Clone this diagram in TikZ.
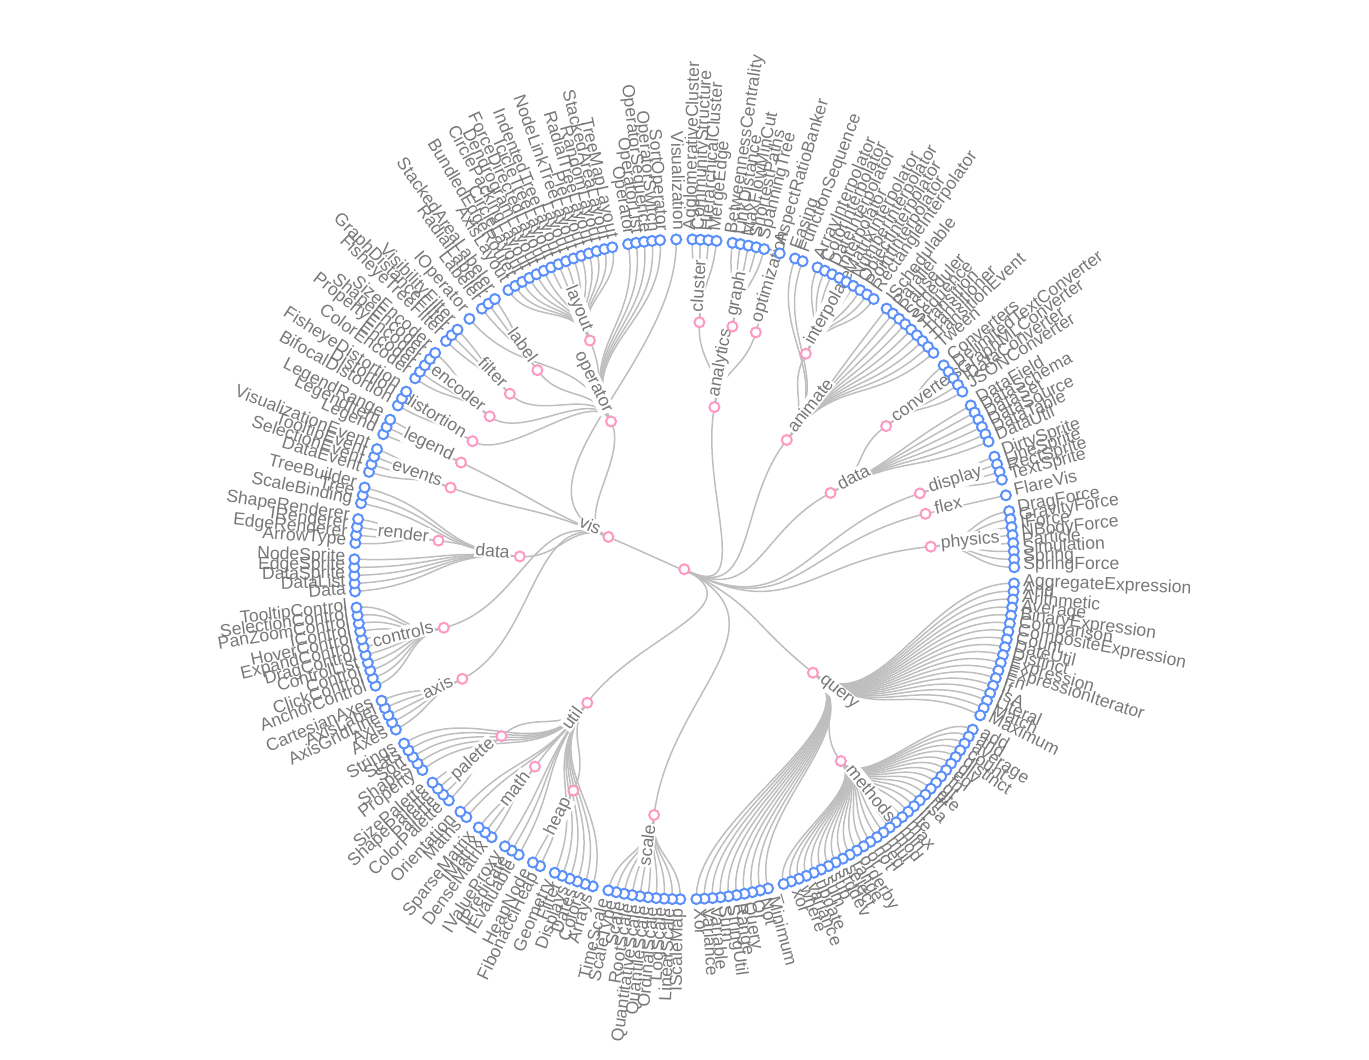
\documentclass[tikz,border=0pt]{standalone}
\usepackage{fontspec}
\setmainfont{Liberation Sans}
\usepackage{xcolor}
\usepackage{tikz}

\definecolor{leafblue}{RGB}{91,143,249}
\definecolor{innerpink}{RGB}{255,153,195}
\definecolor{linkgray}{RGB}{190,190,190}
\definecolor{textgray}{RGB}{120,120,120}

\tikzset{
    leafnode/.style={circle, draw=leafblue, fill=white, line width=2pt, minimum size=10pt, inner sep=0pt},
    branchnode/.style={leafnode, draw=innerpink},
    leafnode text/.style={text=textgray, font=\fontsize{17.6}{20}\selectfont, inner sep=0pt},
    branchnode text/.style={leafnode text, fill=white, inner sep=1.2pt},
    edgeline/.style={draw=linkgray, line width=1.5pt}
}

% 360/257 degrees per slot, radius of the outer ring
\def\slotang{1.400778}
\def\ringrad{330}
\newif\iflinkpass

\newcommand{\storeval}[3]{\expandafter\xdef\csname #1@#2\endcsname{#3}}
\newcommand{\fetchval}[2]{\csname #1@#2\endcsname}

% #1 name, #2 text, #3 slot, #4 height, #5 parent, #6 style
\newcommand{\treenode}[6]{%
    \pgfmathsetmacro\nodeang{90-#3*\slotang}%
    \pgfmathsetmacro\noderad{\ringrad*(1-#4/4)}%
    \iflinkpass
        % first pass: positions and connectors
        \storeval{ang}{#1}{\nodeang}%
        \storeval{rad}{#1}{\noderad}%
        \coordinate (#1) at (\nodeang:\noderad);
        \pgfmathsetmacro\parang{\fetchval{ang}{#5}}%
        \pgfmathsetmacro\midrad{(\fetchval{rad}{#5}+\noderad)/2}%
        \draw[edgeline] (#5) .. controls (\parang:\midrad) and (\nodeang:\midrad) .. (#1);
    \else
        % second pass: circles and labels
        \node[#6] (n-#1) at (#1) {};
        \pgfmathsetmacro\labrad{\noderad+9}%
        \pgfmathtruncatemacro\onright{#3*\slotang<180}%
        \ifnum\onright=1
            \node[#6 text, anchor=mid west, rotate=\nodeang] (t-#1) at (\nodeang:\labrad) {#2};
        \else
            \pgfmathsetmacro\flipang{\nodeang+180}%
            \node[#6 text, anchor=mid east, rotate=\flipang] (t-#1) at (\nodeang:\labrad) {#2};
        \fi
    \fi
}

% #1 parent, #2 first slot, #3 names
\newcommand{\leafrun}[3]{%
    \foreach \nm [count=\k from 0] in {#3} {%
        \pgfmathsetmacro\leafslot{#2+\k}%
        \treenode{\nm}{\nm}{\leafslot}{0}{#1}{leafnode}%
    }%
}

\newcommand{\flaretree}{%
    % Top level packages
    \foreach \nm/\slotno/\hgt in {analytics/7.5/2, animate/27.4167/2, data/44.5714/2, display/51.5/1, flex/55/1, physics/60.5/1, query/91.9483/2, scale/133.5/1, util/154.2105/2, vis/209.2323/3} {
        \treenode{\nm}{\nm}{\slotno}{\hgt}{root}{branchnode}
    }
    % Sub packages
    \foreach \nm/\slotno/\hgt/\up in {cluster/2.5/1/analytics, graph/8/1/analytics, optimization/12/1/analytics, interpolate/21/1/animate, converters/39/1/data, methods/100.5/1/query, heap/147.5/1/util, math/155/1/util, palette/162.5/1/util, axis/174/1/vis, controls/183/1/vis, events/206.5/1/vis, legend/211/1/vis, operator/238.1818/2/vis} {
        \treenode{\nm}{\nm}{\slotno}{\hgt}{\up}{branchnode}
    }
    \treenode{visdata}{data}{195.9444}{2}{vis}{branchnode}
    \foreach \nm/\slotno/\up in {render/197.5/visdata, distortion/215/operator, encoder/220/operator, filter/225/operator, label/231/operator, layout/241/operator} {
        \treenode{\nm}{\nm}{\slotno}{1}{\up}{branchnode}
    }
    % Leaves - analytics, animate
    \leafrun{cluster}{1}{AgglomerativeCluster, CommunityStructure, HierarchicalCluster, MergeEdge}
    \leafrun{graph}{6}{BetweennessCentrality, LinkDistance, MaxFlowMinCut, ShortestPaths, SpanningTree}
    \leafrun{optimization}{12}{AspectRatioBanker}
    \leafrun{animate}{14}{Easing, FunctionSequence}
    \leafrun{interpolate}{17}{ArrayInterpolator, ColorInterpolator, DateInterpolator, Interpolator, MatrixInterpolator, NumberInterpolator, ObjectInterpolator, PointInterpolator, RectangleInterpolator}
    \leafrun{animate}{27}{ISchedulable, Parallel, Pause, Scheduler, Sequence, Transition, Transitioner, TransitionEvent, Tween}
    % Leaves - data, display, flex, physics
    \leafrun{converters}{37}{Converters, DelimitedTextConverter, GraphMLConverter, IDataConverter, JSONConverter}
    \leafrun{data}{43}{DataField, DataSchema, DataSet, DataSource, DataTable, DataUtil}
    \leafrun{display}{50}{DirtySprite, LineSprite, RectSprite, TextSprite}
    \leafrun{flex}{55}{FlareVis}
    \leafrun{physics}{57}{DragForce, GravityForce, IForce, NBodyForce, Particle, Simulation, Spring, SpringForce}
    % Leaves - query
    \leafrun{query}{66}{AggregateExpression, And, Arithmetic, Average, BinaryExpression, Comparison, CompositeExpression, Count, DateUtil, Distinct, Expression, ExpressionIterator, Fn, If, IsA, Literal, Match, Maximum}
    \leafrun{methods}{85}{add, and, average, count, distinct, div, eq, fn, gt, gte, iff, isa, lt, lte, max, min, mod, mul, neq, not, or, orderby, range, select, stddev, sub, sum, update, variance, where, xor}
    \treenode{under}{\_}{116}{0}{methods}{leafnode}
    \leafrun{query}{118}{Minimum, Not, Or, Query, Range, StringUtil, Sum, Variable, Variance, Xor}
    % Leaves - scale, util
    \leafrun{scale}{129}{IScaleMap, LinearScale, LogScale, OrdinalScale, QuantileScale, QuantitativeScale, RootScale, Scale, ScaleType, TimeScale}
    \leafrun{util}{140}{Arrays, Colors, Dates, Displays, Filter, Geometry}
    \leafrun{heap}{147}{FibonacciHeap, HeapNode}
    \leafrun{util}{150}{IEvaluable, IPredicate, IValueProxy}
    \leafrun{math}{154}{DenseMatrix, IMatrix, SparseMatrix}
    \leafrun{util}{158}{Maths, Orientation}
    \leafrun{palette}{161}{ColorPalette, Palette, ShapePalette, SizePalette}
    \leafrun{util}{166}{Property, Shapes, Sort, Stats, Strings}
    % Leaves - vis
    \leafrun{axis}{172}{Axes, Axis, AxisGridLine, AxisLabel, CartesianAxes}
    \leafrun{controls}{178}{AnchorControl, ClickControl, Control, ControlList, DragControl, ExpandControl, HoverControl, IControl, PanZoomControl, SelectionControl, TooltipControl}
    \leafrun{visdata}{190}{Data, DataList, DataSprite, EdgeSprite, NodeSprite}
    \leafrun{render}{196}{ArrowType, EdgeRenderer, IRenderer, ShapeRenderer}
    \leafrun{visdata}{201}{ScaleBinding, Tree, TreeBuilder}
    \leafrun{events}{205}{DataEvent, SelectionEvent, TooltipEvent, VisualizationEvent}
    \leafrun{legend}{210}{Legend, LegendItem, LegendRange}
    \leafrun{distortion}{214}{BifocalDistortion, Distortion, FisheyeDistortion}
    \leafrun{encoder}{218}{ColorEncoder, Encoder, PropertyEncoder, ShapeEncoder, SizeEncoder}
    \leafrun{filter}{224}{FisheyeTreeFilter, GraphDistanceFilter, VisibilityFilter}
    \leafrun{operator}{228}{IOperator}
    \leafrun{label}{230}{Labeler, RadialLabeler, StackedAreaLabeler}
    \leafrun{layout}{234}{AxisLayout, BundledEdgeRouter, CircleLayout, CirclePackingLayout, DendrogramLayout, ForceDirectedLayout, IcicleTreeLayout, IndentedTreeLayout, Layout, NodeLinkTreeLayout, PieLayout, RadialTreeLayout, RandomLayout, StackedAreaLayout, TreeMapLayout}
    \leafrun{operator}{250}{Operator, OperatorList, OperatorSequence, OperatorSwitch, SortOperator}
    \leafrun{vis}{256}{Visualization}
}

\begin{document}
\begin{tikzpicture}[x=1pt, y=1pt]
    \useasboundingbox (-684.3,-490.7) rectangle (684.7,569.3);

    % Root
    \coordinate (root) at (0,0);
    \storeval{ang}{root}{-27.018}
    \storeval{rad}{root}{0}

    % Connectors first, then circles and labels on top
    \linkpasstrue
    \flaretree
    \linkpassfalse
    \node[branchnode] (n-root) at (root) {};
    \flaretree
\end{tikzpicture}
\end{document}
